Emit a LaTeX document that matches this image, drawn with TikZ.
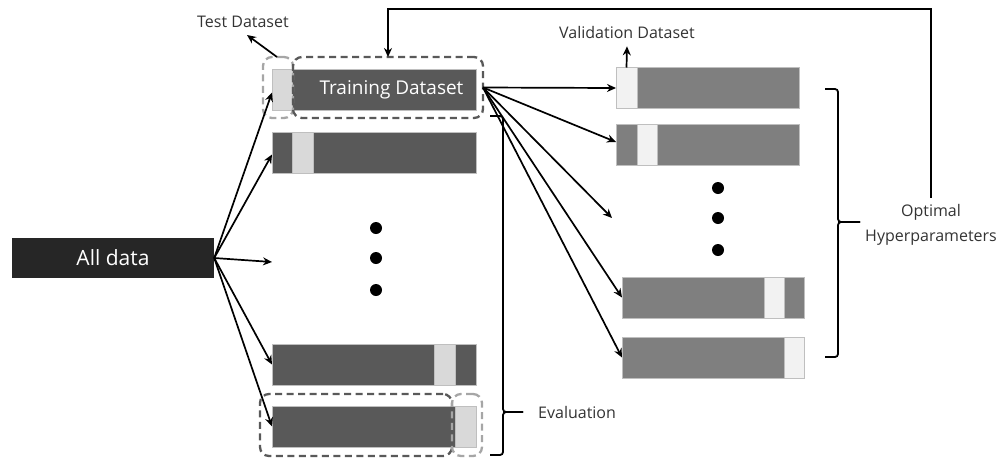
\documentclass[tikz,border=0pt]{standalone}
\usepackage{fontspec}
\setmainfont{Open Sans}
\usetikzlibrary{arrows.meta}
\definecolor{darkbar}{HTML}{595959}
\definecolor{midbar}{HTML}{7F7F7F}
\definecolor{lightA}{HTML}{D9D9D9}
\definecolor{lightB}{HTML}{F2F2F2}
\definecolor{alld}{HTML}{262626}
\definecolor{txt}{HTML}{333333}
\definecolor{edgegray}{HTML}{BFBFBF}
\definecolor{dashA}{HTML}{595959}
\definecolor{dashB}{HTML}{A6A6A6}
\tikzset{
  bar/.style={draw=edgegray, line width=0.8pt, minimum height=41pt, inner sep=0pt, outer sep=0pt},
  darkb/.style={bar, fill=darkbar},
  midb/.style={bar, fill=midbar},
  holdA/.style={bar, fill=lightA},
  holdB/.style={bar, fill=lightB},
  dashbox/.style={rounded corners=9pt, line width=2.3pt, dash pattern=on 7pt off 4.5pt, minimum height=61pt, inner sep=0pt, outer sep=0pt},
  dboxdark/.style={dashbox, draw=dashA},
  dboxlight/.style={dashbox, draw=dashB},
  arr/.style={-{Stealth[length=9pt,width=8pt]}, line width=1.7pt, black},
  lbl/.style={text=txt, font=\fontsize{16}{18}\selectfont, inner sep=0pt},
  bigdot/.style={circle, fill=black, minimum size=12pt, inner sep=0pt},
  brace/.style={line width=1.8pt, rounded corners=3pt}
}
\begin{document}
\begin{tikzpicture}[x=1pt,y=-1pt]
\useasboundingbox (0,0) rectangle (1000,459);

% All data
\node[fill=alld, minimum width=202pt, minimum height=40pt, inner sep=0pt, text=white,
      font=\fontsize{21}{24}\selectfont] (all) at (113,258) {All data};

% Left column
\node[holdA, minimum width=20pt] (L1t) at (282,89.5) {};
\node[darkb, minimum width=184pt, text=white, font=\fontsize{19}{22}\selectfont] (L1) at (384,89.5) {\hspace*{15pt}Training Dataset};
\node[darkb, minimum width=204pt] (L2) at (374,152.5) {};
\node[holdA, minimum width=21pt] (L2h) at (302.5,152.5) {};
\node[darkb, minimum width=204pt] (L4) at (374,364.5) {};
\node[holdA, minimum width=21pt] (L4h) at (444.5,364.5) {};
\node[darkb, minimum width=204pt] (L5) at (374,426.5) {};
\node[holdA, minimum width=21pt] (L5h) at (465.5,426.5) {};

\node[bigdot] (ld1) at (376,228) {};
\node[bigdot] (ld2) at (376,258) {};
\node[bigdot] (ld3) at (376,290) {};

% dashed groups
\node[dboxlight, minimum width=30pt] (testbox) at (278,87.5) {};
\node[dboxdark, minimum width=190pt] (trainbox) at (388,87.5) {};
\node[dboxdark, minimum width=192pt, minimum height=62pt] (evtrain) at (356,425) {};
\node[dboxlight, minimum width=30pt, minimum height=62pt] (evtest) at (467,425) {};

% Right column
\node[midb, minimum width=183pt] (R1) at (707.5,88) {};
\node[holdB, minimum width=21pt] (R1h) at (626.5,88) {};
\node[midb, minimum width=183pt] (R2) at (707.5,145) {};
\node[holdB, minimum width=20pt] (R2h) at (647,145) {};
\node[midb, minimum width=182pt] (R4) at (713,297.5) {};
\node[holdB, minimum width=20pt] (R4h) at (774,297.5) {};
\node[midb, minimum width=182pt] (R5) at (713,357.5) {};
\node[holdB, minimum width=20pt] (R5h) at (794,357.5) {};

\node[bigdot] (rd1) at (718,188) {};
\node[bigdot] (rd2) at (718,218) {};
\node[bigdot] (rd3) at (718,250) {};

% Labels
\node[lbl] (testlbl) at (243,22) {Test Dataset};
\node[lbl] (vallbl) at (627,32) {Validation Dataset};
\node[lbl, anchor=west] (evallbl) at (538,412) {Evaluation};
\node[text=txt, font=\fontsize{16}{25}\selectfont, align=center, inner sep=6pt] (opt) at (931,224.5) {Optimal\\Hyperparameters};

% Arrows from all data
\coordinate (mid) at (272,262);
\draw[arr] (all.east) -- ([yshift=-3pt]L1t.west);
\draw[arr] (all.east) -- ([yshift=-2pt]L2.west);
\draw[arr] (all.east) -- (mid);
\draw[arr] (all.east) -- (L4.west);
\draw[arr] (all.east) -- (L5.west);

% Arrows from training dataset
\coordinate (rmid) at (612,218);
\draw[arr] (trainbox.east) -- (R1.west);
\draw[arr] (trainbox.east) -- ([yshift=3pt]R2.west);
\draw[arr] (trainbox.east) -- (rmid);
\draw[arr] (trainbox.east) -- (R4.west);
\draw[arr] (trainbox.east) -- (R5.west);

% label arrows
\draw[arr] ([xshift=-1pt]testbox.north) -- ([xshift=4pt,yshift=-7pt]testlbl.south);
\draw[arr] (R1h.north) -- ([yshift=-8pt]vallbl.south);

% feedback
\coordinate (topc) at (930,9);
\draw[arr] (opt.north) |- (topc) -| (trainbox.north);

% Evaluation brace
\draw[brace] (490,116) -| (503,412) -- (523,412);
\draw[brace] (523,412) -- (503,412) |- (490,455);

% Hyperparameter brace
\draw[brace] (825,89) -| (838,222) -- (860,222);
\draw[brace] (860,222) -- (838,222) |- (825,357);
\end{tikzpicture}
\end{document}
